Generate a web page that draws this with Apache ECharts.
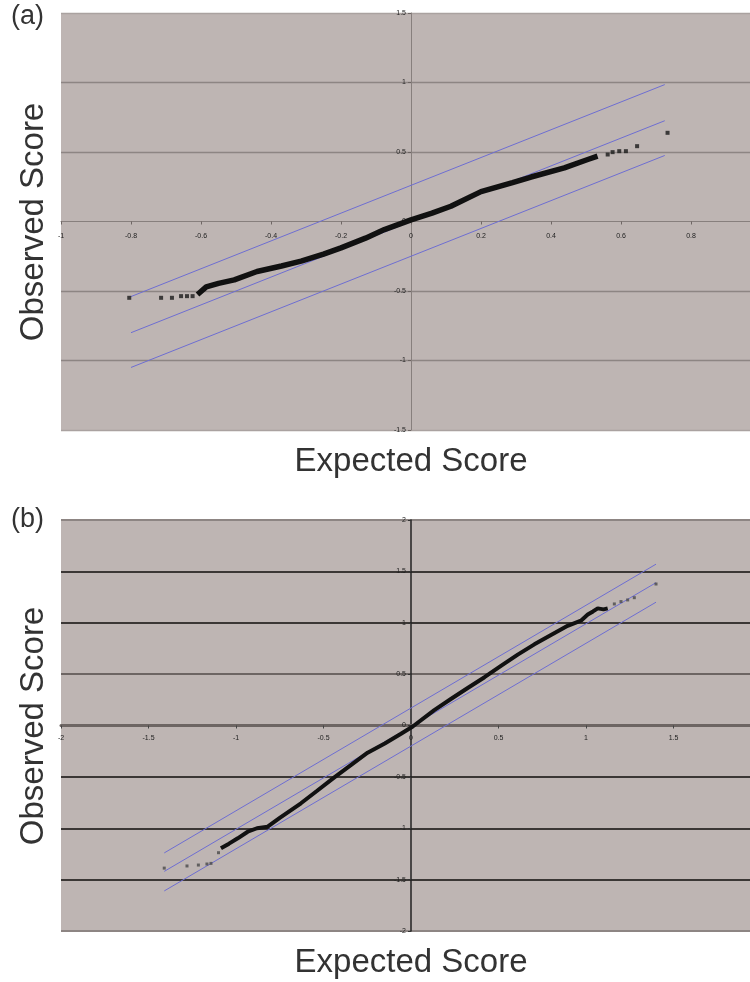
<!DOCTYPE html>
<html>
<head>
<meta charset="utf-8">
<script src="https://cdn.jsdelivr.net/npm/echarts@6/dist/echarts.min.js"></script>
<style>
html,body{margin:0;padding:0;background:#fff;}
#chart{width:750px;height:982px;}
</style>
</head>
<body>
<div id="chart"></div>
<script>
// ---------- Panel (a) ----------
const aTicksX = {min: -1, max: 1, step: 0.2};
const aTicksY = {min: -1.5, max: 1.5, step: 0.5};
// dense part of the observed quantiles (drawn as a thick trace)
const aDenseX = [-0.61, -0.585, -0.55, -0.505, -0.44, -0.37, -0.314, -0.25, -0.2, -0.13, -0.076, 0, 0.06, 0.114, 0.2, 0.29, 0.343, 0.438, 0.505, 0.533];
const aDenseY = [-0.525, -0.47, -0.445, -0.42, -0.36, -0.32, -0.285, -0.235, -0.19, -0.12, -0.058, 0.012, 0.06, 0.11, 0.215, 0.28, 0.32, 0.386, 0.446, 0.47];
// sparse tail points
const aTailX = [-0.805, -0.714, -0.683, -0.657, -0.64, -0.624, 0.562, 0.576, 0.595, 0.614, 0.646, 0.733];
const aTailY = [-0.549, -0.549, -0.549, -0.537, -0.537, -0.537, 0.482, 0.499, 0.506, 0.506, 0.542, 0.638];
// reference lines: endpoints
const aLineX = [-0.8, 0.725];
const aUpperY = [-0.54, 0.985];
const aMidY = [-0.8, 0.725];
const aLowerY = [-1.05, 0.475];

// ---------- Panel (b) ----------
const bTicksX = {min: -2, max: 2, step: 0.5};
const bTicksY = {min: -2, max: 2, step: 0.5};
const bDenseX = [-1.086, -1.04, -0.99, -0.933, -0.88, -0.819, -0.75, -0.629, -0.54, -0.438, -0.34, -0.248, -0.15, -0.057, 0.01, 0.133, 0.23, 0.324, 0.42, 0.514, 0.61, 0.705, 0.8, 0.895, 0.971, 1.01, 1.04, 1.067, 1.1, 1.124];
const bDenseY = [-1.195, -1.15, -1.098, -1.034, -1.0, -0.985, -0.9, -0.757, -0.64, -0.505, -0.38, -0.265, -0.175, -0.08, -0.01, 0.15, 0.26, 0.365, 0.47, 0.58, 0.69, 0.79, 0.88, 0.97, 1.02, 1.08, 1.11, 1.14, 1.13, 1.14];
const bTailX = [-1.41, -1.28, -1.215, -1.166, -1.143, -1.10, 1.162, 1.2, 1.238, 1.276, 1.40];
const bTailY = [-1.388, -1.367, -1.358, -1.348, -1.342, -1.238, 1.183, 1.206, 1.222, 1.244, 1.377];
const bLineX = [-1.41, 1.40];
const bUpperY = [-1.24, 1.57];
const bMidY = [-1.42, 1.39];
const bLowerY = [-1.61, 1.20];

const titles = {x: 'Expected Score', y: 'Observed Score', a: '(a)', b: '(b)'};

const zip = (xs, ys) => xs.map((x, i) => [x, ys[i]]);
const FONT = '"Liberation Sans", Arial, sans-serif';
const BG = '#beb5b3';
const BLUE = '#6e6ed2';
const LABEL = '#222';

const G0 = {left: 61, top: 13, width: 700, height: 417};
const G1 = {left: 61, top: 520, width: 700, height: 411};

function lineSeries(xi, xs, ys, color, width, z) {
  return {type: 'line', xAxisIndex: xi, yAxisIndex: xi, data: zip(xs, ys), symbol: 'none',
    lineStyle: {color: color, width: width}, z: z, silent: true, animation: false};
}
function tailSeries(xi, xs, ys, size, color) {
  return {type: 'scatter', xAxisIndex: xi, yAxisIndex: xi, data: zip(xs, ys), symbol: 'rect',
    symbolSize: size, itemStyle: {color: color}, z: 5, silent: true, animation: false};
}

const chart = echarts.init(document.getElementById('chart'), null, {renderer: 'canvas'});
chart.setOption({
  animation: false,
  backgroundColor: '#fff',
  grid: [
    Object.assign({show: true, backgroundColor: BG, borderWidth: 0, outerBoundsMode: 'none', containLabel: false}, G0),
    Object.assign({show: true, backgroundColor: BG, borderWidth: 0, outerBoundsMode: 'none', containLabel: false}, G1)
  ],
  xAxis: [
    {gridIndex: 0, type: 'value', min: aTicksX.min, max: aTicksX.max, interval: aTicksX.step,
      position: 'bottom', offset: -G0.height / 2,
      axisLine: {onZero: false, lineStyle: {color: '#877f7d', width: 1}},
      axisTick: {show: true, length: 3, lineStyle: {color: '#6d6563'}},
      axisLabel: {fontSize: 7, color: LABEL, margin: 11, fontFamily: FONT},
      splitLine: {show: false}},
    {gridIndex: 1, type: 'value', min: bTicksX.min, max: bTicksX.max, interval: bTicksX.step,
      position: 'bottom', offset: -G1.height / 2,
      axisLine: {onZero: false, lineStyle: {color: '#6d6563', width: 3}},
      axisTick: {show: true, length: 3, lineStyle: {color: '#444'}},
      axisLabel: {fontSize: 7, color: LABEL, margin: 9, fontFamily: FONT},
      splitLine: {show: false}}
  ],
  yAxis: [
    {gridIndex: 0, type: 'value', min: aTicksY.min, max: aTicksY.max, interval: aTicksY.step,
      position: 'left', offset: -G0.width / 2,
      axisLine: {onZero: false, lineStyle: {color: '#877f7d', width: 1}},
      axisTick: {show: true, length: 3, lineStyle: {color: '#6d6563'}},
      axisLabel: {fontSize: 7, color: LABEL, margin: 5, fontFamily: FONT},
      splitLine: {show: true, lineStyle: {color: ['#aaa2a0', '#8d8583', '#8d8583', 'transparent', '#8d8583', '#8d8583', '#aaa2a0'], width: 1.3}}},
    {gridIndex: 1, type: 'value', min: bTicksY.min, max: bTicksY.max, interval: bTicksY.step,
      position: 'left', offset: -G1.width / 2,
      axisLine: {onZero: false, lineStyle: {color: '#222', width: 1.5}},
      axisTick: {show: true, length: 3, lineStyle: {color: '#333'}},
      axisLabel: {fontSize: 7, color: LABEL, margin: 5, fontFamily: FONT},
      splitLine: {show: true, lineStyle: {color: ['#8d8583', '#3b3735', '#3b3735', '#3b3735', 'transparent', '#6d6563', '#3b3735', '#3b3735', '#8d8583'], width: 2}}}
  ],
  series: [
    lineSeries(0, aLineX, aUpperY, BLUE, 1, 3),
    lineSeries(0, aLineX, aMidY, BLUE, 1, 3),
    lineSeries(0, aLineX, aLowerY, BLUE, 1, 3),
    lineSeries(0, aDenseX, aDenseY, '#111', 5.5, 4),
    tailSeries(0, aTailX, aTailY, 4, '#1a1a1a'),
    lineSeries(1, bLineX, bUpperY, BLUE, 1, 3),
    lineSeries(1, bLineX, bMidY, BLUE, 1, 3),
    lineSeries(1, bLineX, bLowerY, BLUE, 1, 3),
    lineSeries(1, bDenseX, bDenseY, '#111', 4, 4),
    tailSeries(1, bTailX, bTailY, 3, '#4a4a4a')
  ],
  graphic: [
    {type: 'text', left: 11, top: 3, style: {text: titles.a, font: '27px ' + FONT, fill: '#333'}},
    {type: 'text', left: 11, top: 506, style: {text: titles.b, font: '27px ' + FONT, fill: '#333'}},
    {type: 'text', x: 34, y: 222, rotation: Math.PI / 2,
      style: {text: titles.y, font: '33px ' + FONT, fill: '#333', textAlign: 'center', textVerticalAlign: 'middle'}},
    {type: 'text', x: 34, y: 726, rotation: Math.PI / 2,
      style: {text: titles.y, font: '33px ' + FONT, fill: '#333', textAlign: 'center', textVerticalAlign: 'middle'}},
    {type: 'text', x: 411, y: 462,
      style: {text: titles.x, font: '33px ' + FONT, fill: '#333', textAlign: 'center', textVerticalAlign: 'middle'}},
    {type: 'text', x: 411, y: 963,
      style: {text: titles.x, font: '33px ' + FONT, fill: '#333', textAlign: 'center', textVerticalAlign: 'middle'}}
  ]
});
</script>
</body>
</html>
